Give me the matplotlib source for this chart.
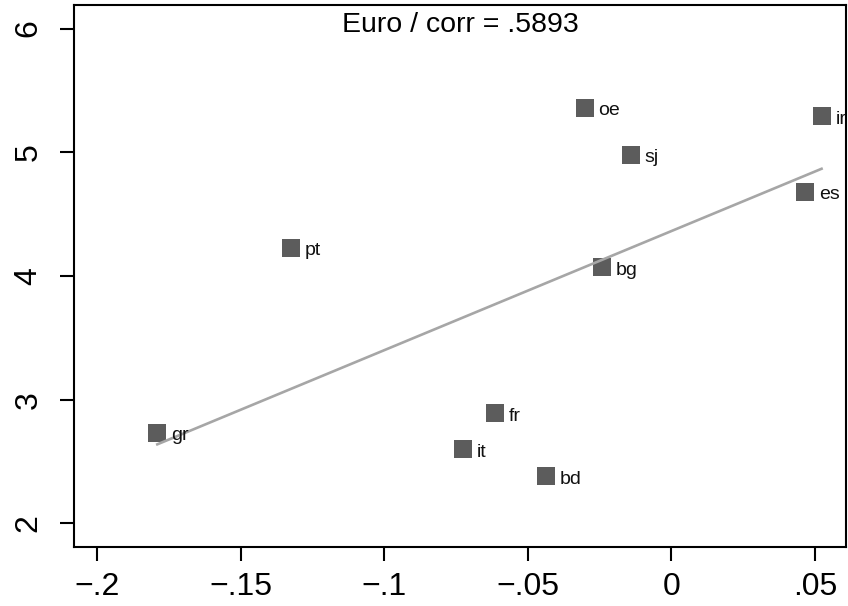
import numpy as np
import matplotlib
matplotlib.use("Agg")
import matplotlib.pyplot as plt

plt.rcParams["font.family"] = ["Liberation Sans", "DejaVu Sans"]

# country codes and values
countries = ["gr", "pt", "oe", "sj", "ir", "es", "bg", "fr", "it", "bd"]
x_vals = [-0.179, -0.1325, -0.0302, -0.0142, 0.0523, 0.0467, -0.0243, -0.0615, -0.0726, -0.0438]
y_vals = [2.73, 4.23, 5.36, 4.98, 5.29, 4.68, 4.07, 2.89, 2.60, 2.38]

x_ticks = [-0.2, -0.15, -0.1, -0.05, 0, 0.05]
x_tick_labels = ["\u2212.2", "\u2212.15", "\u2212.1", "\u2212.05", "0", ".05"]
y_ticks = [2, 3, 4, 5, 6]
title = "Euro / corr = .5893"

x = np.array(x_vals)
y = np.array(y_vals)

# linear fit over the observed range
slope, intercept = np.polyfit(x, y, 1)
fit_x = np.array([x.min(), x.max()])
fit_y = intercept + slope * fit_x

fig = plt.figure(figsize=(8.48, 6.06), dpi=100)
ax = fig.add_axes([0.0873, 0.0974, 0.9103, 0.8943])

ax.scatter(x, y, marker="s", s=175, color="#5c5c5c", zorder=3, linewidths=0)
ax.plot(fit_x, fit_y, color="#a6a6a6", linewidth=1.9, zorder=4)

for name, xi, yi in zip(countries, x, y):
    ax.annotate(name, (xi, yi), xytext=(10, -2), textcoords="offset points",
                ha="left", va="center", fontsize=14, color="#111111",
                annotation_clip=False, clip_on=True, zorder=5)

ax.set_xlim(-0.208, 0.0608)
ax.set_ylim(1.81, 6.19)
ax.set_xticks(x_ticks)
ax.set_xticklabels(x_tick_labels)
ax.set_yticks(y_ticks)
ax.set_yticklabels([str(v) for v in y_ticks], rotation=90, va="center")

ax.tick_params(axis="x", labelsize=23, length=10, width=1.5, pad=8)
ax.tick_params(axis="y", labelsize=23, length=10, width=1.5, pad=12)
for spine in ax.spines.values():
    spine.set_linewidth(1.5)

ax.text(0.5, 0.988, title, transform=ax.transAxes, ha="center", va="top", fontsize=20.5)

fig.savefig("out.png", dpi=100)
